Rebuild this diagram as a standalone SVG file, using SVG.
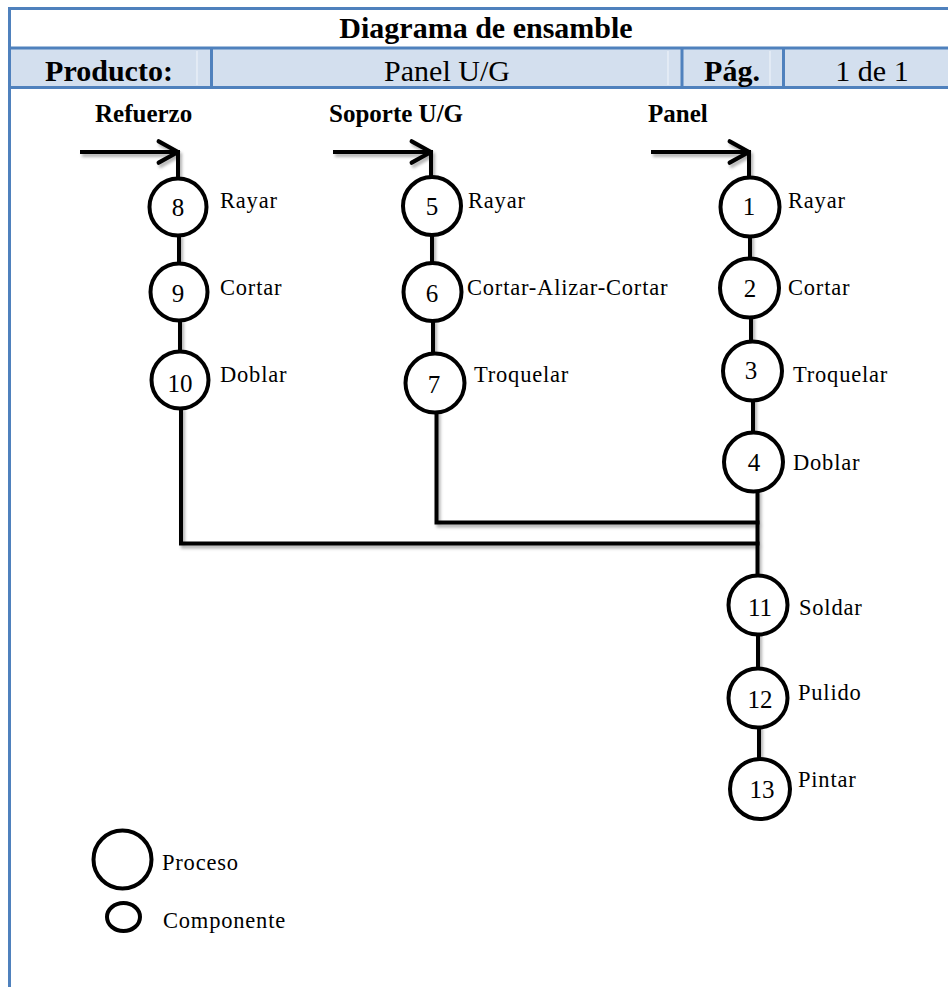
<svg xmlns="http://www.w3.org/2000/svg" width="948" height="987" viewBox="0 0 948 987">
  <defs>
    <style>
      .frame { stroke: #4F81BD; stroke-width: 3.5; fill: none; }
      .sep { stroke: #4F81BD; stroke-width: 3; }
      .faint { stroke: #F2F6FB; stroke-width: 1; }
      .hdr { font-family: "Liberation Serif", "Times New Roman", serif; font-size: 30px; fill: #000; text-anchor: middle; }
      .b { font-weight: bold; }
      .src { font-family: "Liberation Serif", "Times New Roman", serif; font-size: 25px; font-weight: bold; fill: #000; }
      .proc { fill: #fff; stroke: #000; stroke-width: 4; }
      .num { font-family: "Liberation Serif", "Times New Roman", serif; font-size: 25px; fill: #000; text-anchor: middle; }
      .lbl { font-family: "Liberation Serif", "Times New Roman", serif; font-size: 22.5px; letter-spacing: 0.8px; fill: #000; }
      .wire { stroke: #000; stroke-width: 4; fill: none; stroke-linecap: square; }
    </style>
    <marker id="chev" markerUnits="userSpaceOnUse" markerWidth="30" markerHeight="30" viewBox="-22 -14 26 28" refX="0" refY="0" orient="auto">
      <path d="M-18,-10 L0,0 L-18,10" fill="none" stroke="#000" stroke-width="4" stroke-linejoin="round" stroke-linecap="round"/>
    </marker>
    <filter id="shade" x="-5%" y="-5%" width="110%" height="110%">
      <feDropShadow dx="2" dy="3" stdDeviation="1.5" flood-color="#000" flood-opacity="0.3"/>
    </filter>
  </defs>

  <rect width="948" height="987" fill="#fff"/>

  <!-- header table -->
  <g id="header">
    <rect x="10" y="49" width="950" height="38" fill="#D3DFEE"/>
    <line class="faint" x1="197" y1="51" x2="197" y2="85"/>
    <line class="faint" x1="668" y1="51" x2="668" y2="85"/>
    <line class="faint" x1="770" y1="51" x2="770" y2="85"/>
    <line class="sep" x1="8" y1="8.5" x2="948" y2="8.5"/>
    <line class="sep" x1="8" y1="48" x2="948" y2="48"/>
    <line class="sep" x1="8" y1="87.5" x2="948" y2="87.5"/>
    <line class="sep" x1="9.5" y1="7" x2="9.5" y2="987"/>
    <line class="sep" x1="211.5" y1="48" x2="211.5" y2="87.5"/>
    <line class="sep" x1="682" y1="48" x2="682" y2="87.5"/>
    <line class="sep" x1="783.5" y1="48" x2="783.5" y2="87.5"/>
    <text class="hdr b" x="486" y="38" font-size="31">Diagrama de ensamble</text>
    <text class="hdr b" x="109" y="81">Producto:</text>
    <text class="hdr" x="447" y="81">Panel U/G</text>
    <text class="hdr b" x="732" y="81">Pág.</text>
    <text class="hdr" x="872" y="81">1 de 1</text>
  </g>

  <!-- connectors -->
  <g id="connectors" filter="url(#shade)">
    <!-- entry arrows -->
    <line class="wire" x1="82" y1="152" x2="178" y2="152" marker-end="url(#chev)"/>
    <line class="wire" x1="335" y1="152" x2="431" y2="152" marker-end="url(#chev)"/>
    <line class="wire" x1="653" y1="152" x2="749" y2="152" marker-end="url(#chev)"/>
    <line class="wire" x1="178" y1="152" x2="178" y2="178"/>
    <line class="wire" x1="431" y1="152" x2="431" y2="177"/>
    <line class="wire" x1="749" y1="152" x2="749" y2="178"/>
    <!-- Refuerzo chain -->
    <line class="wire" x1="179" y1="236" x2="179" y2="263"/>
    <line class="wire" x1="180" y1="321" x2="180" y2="351"/>
    <polyline class="wire" points="181,409 181,543.5 757.5,543.5"/>
    <!-- Soporte U/G chain -->
    <line class="wire" x1="432" y1="235" x2="432" y2="263"/>
    <line class="wire" x1="433" y1="321" x2="433" y2="354"/>
    <polyline class="wire" points="436.5,412 436.5,522.5 757.5,522.5"/>
    <!-- Panel chain -->
    <line class="wire" x1="750" y1="236" x2="750" y2="259"/>
    <line class="wire" x1="751" y1="317" x2="751" y2="342"/>
    <line class="wire" x1="753" y1="400" x2="753" y2="433"/>
    <line class="wire" x1="757.5" y1="491" x2="757.5" y2="576"/>
    <!-- final chain -->
    <line class="wire" x1="758" y1="634" x2="758" y2="669"/>
    <line class="wire" x1="759" y1="727" x2="759" y2="760"/>
  </g>

  <!-- sources -->
  <g id="src-refuerzo"><text class="src" x="95" y="122">Refuerzo</text></g>
  <g id="src-soporte"><text class="src" x="329" y="122">Soporte U/G</text></g>
  <g id="src-panel"><text class="src" x="648" y="122">Panel</text></g>

  <!-- process steps -->
  <g id="op1">
    <circle class="proc" cx="750" cy="207" r="29.5"/>
    <text class="num" x="749" y="215">1</text>
    <text class="lbl" x="788" y="208">Rayar</text>
  </g>
  <g id="op2">
    <circle class="proc" cx="749.5" cy="288" r="29.5"/>
    <text class="num" x="750" y="297">2</text>
    <text class="lbl" x="788" y="295">Cortar</text>
  </g>
  <g id="op3">
    <circle class="proc" cx="752.5" cy="371" r="29.5"/>
    <text class="num" x="751" y="379">3</text>
    <text class="lbl" x="793" y="382">Troquelar</text>
  </g>
  <g id="op4">
    <circle class="proc" cx="753.5" cy="462" r="29.5"/>
    <text class="num" x="754" y="471">4</text>
    <text class="lbl" x="793" y="470">Doblar</text>
  </g>
  <g id="op5">
    <circle class="proc" cx="432" cy="206" r="29"/>
    <text class="num" x="432" y="215">5</text>
    <text class="lbl" x="468" y="208">Rayar</text>
  </g>
  <g id="op6">
    <circle class="proc" cx="432.5" cy="292" r="29"/>
    <text class="num" x="432" y="302">6</text>
    <text class="lbl" x="467" y="295">Cortar-Alizar-Cortar</text>
  </g>
  <g id="op7">
    <circle class="proc" cx="435" cy="383" r="29.5"/>
    <text class="num" x="434" y="393">7</text>
    <text class="lbl" x="474" y="382">Troquelar</text>
  </g>
  <g id="op8">
    <circle class="proc" cx="178" cy="207" r="28.5"/>
    <text class="num" x="178" y="216">8</text>
    <text class="lbl" x="220" y="208">Rayar</text>
  </g>
  <g id="op9">
    <circle class="proc" cx="179" cy="292" r="28.5"/>
    <text class="num" x="178" y="302">9</text>
    <text class="lbl" x="220" y="295">Cortar</text>
  </g>
  <g id="op10">
    <circle class="proc" cx="180" cy="380" r="28.5"/>
    <text class="num" x="180" y="392">10</text>
    <text class="lbl" x="220" y="382">Doblar</text>
  </g>
  <g id="op11">
    <circle class="proc" cx="758" cy="605" r="29.5"/>
    <text class="num" x="760" y="616">11</text>
    <text class="lbl" x="799" y="615">Soldar</text>
  </g>
  <g id="op12">
    <circle class="proc" cx="758" cy="698" r="29.5"/>
    <text class="num" x="760" y="708">12</text>
    <text class="lbl" x="798" y="700">Pulido</text>
  </g>
  <g id="op13">
    <circle class="proc" cx="760" cy="789" r="30"/>
    <text class="num" x="762" y="798">13</text>
    <text class="lbl" x="798" y="787">Pintar</text>
  </g>

  <!-- legend -->
  <g id="legend-proceso">
    <circle class="proc" cx="122.5" cy="859.5" r="29"/>
    <text class="lbl" x="162" y="870">Proceso</text>
  </g>
  <g id="legend-componente">
    <ellipse class="proc" cx="123.5" cy="917" rx="16.5" ry="14"/>
    <text class="lbl" x="163" y="928">Componente</text>
  </g>
</svg>
